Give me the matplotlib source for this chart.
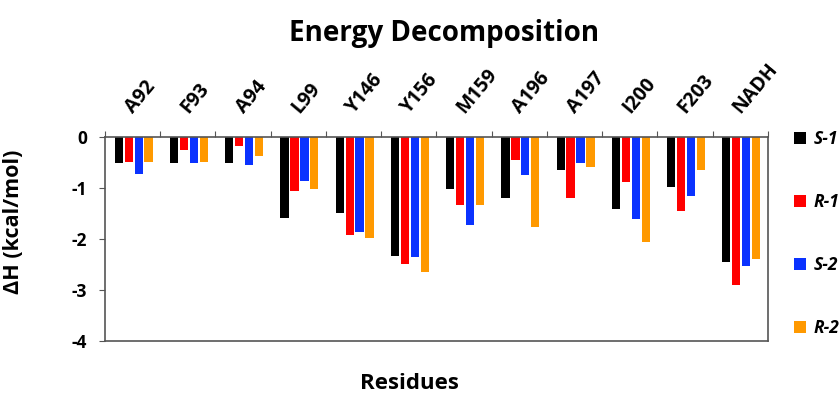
'''Energy decomposition bar chart'''

import numpy as np
import matplotlib
matplotlib.use('Agg')
import matplotlib.pyplot as plt

plt.rcParams['font.family'] = ['Open Sans', 'DejaVu Sans']

# data
residues = ['A92', 'F93', 'A94', 'L99', 'Y146', 'Y156', 'M159', 'A196', 'A197', 'I200', 'F203', 'NADH']
s1 = [-0.52, -0.52, -0.52, -1.59, -1.49, -2.33, -1.02, -1.19, -0.65, -1.42, -0.99, -2.46]
r1 = [-0.49, -0.26, -0.18, -1.06, -1.92, -2.50, -1.33, -0.45, -1.19, -0.89, -1.46, -2.90]
s2 = [-0.72, -0.52, -0.56, -0.86, -1.86, -2.35, -1.73, -0.75, -0.52, -1.62, -1.16, -2.53]
r2 = [-0.49, -0.49, -0.38, -1.02, -1.99, -2.66, -1.33, -1.76, -0.59, -2.06, -0.65, -2.39]
series = ['S-1', 'R-1', 'S-2', 'R-2']
colors = ['#000000', '#ff0000', '#0a32ff', '#ff9900']

fig = plt.figure(figsize=(8.4, 3.99), dpi=100)
ax = fig.add_axes([0.125, 0.146, 0.789, 0.511])

x = np.arange(len(residues))
offsets = [-0.25, -0.07, 0.11, 0.29]
for vals, name, col, off in zip([s1, r1, s2, r2], series, colors, offsets):
    ax.bar(x + off, vals, width=0.15, color=col, label=name)

ax.set_xlim(-0.5, len(residues) - 0.5)
ax.set_ylim(-4, 0)
ax.set_yticks([0, -1, -2, -3, -4])
ax.set_yticklabels(['0', '-1', '-2', '-3', '-4'], fontsize=12.5, fontweight='bold')

# category boundaries as ticks on top, labels near centers
ax.xaxis.tick_top()
ax.set_xticks(np.arange(len(residues) + 1) - 0.5)
ax.set_xticklabels([])
ax.set_xticks(x + 0.08, minor=True)
ax.set_xticklabels(residues, minor=True, rotation=50, ha='left', va='bottom',
                   fontsize=14, fontweight='bold', rotation_mode='anchor')
ax.tick_params(axis='x', which='major', length=4, color='#555555', direction='out')
ax.tick_params(axis='x', which='minor', length=0, pad=14)
ax.tick_params(axis='y', length=4, color='#555555', pad=9)
for sp in ax.spines.values():
    sp.set_color('#555555')
    sp.set_linewidth(1.2)

fig.text(0.016, 0.444, 'ΔH (kcal/mol)', rotation=90, ha='center', va='center',
         fontsize=15.5, fontweight='bold')
fig.text(0.529, 0.917, 'Energy Decomposition', ha='center', va='center', fontsize=20, fontweight='bold')
fig.text(0.487, 0.04, 'Residues', ha='center', va='center', fontsize=16, fontweight='bold')

fig.legend(loc='upper left', bbox_to_anchor=(0.927, 0.714), frameon=False,
           handlelength=0.7, handleheight=0.7, handletextpad=0.4, labelspacing=2.6,
           prop={'size': 12.5, 'weight': 'bold', 'style': 'italic'})

plt.savefig('out.png', dpi=100)
